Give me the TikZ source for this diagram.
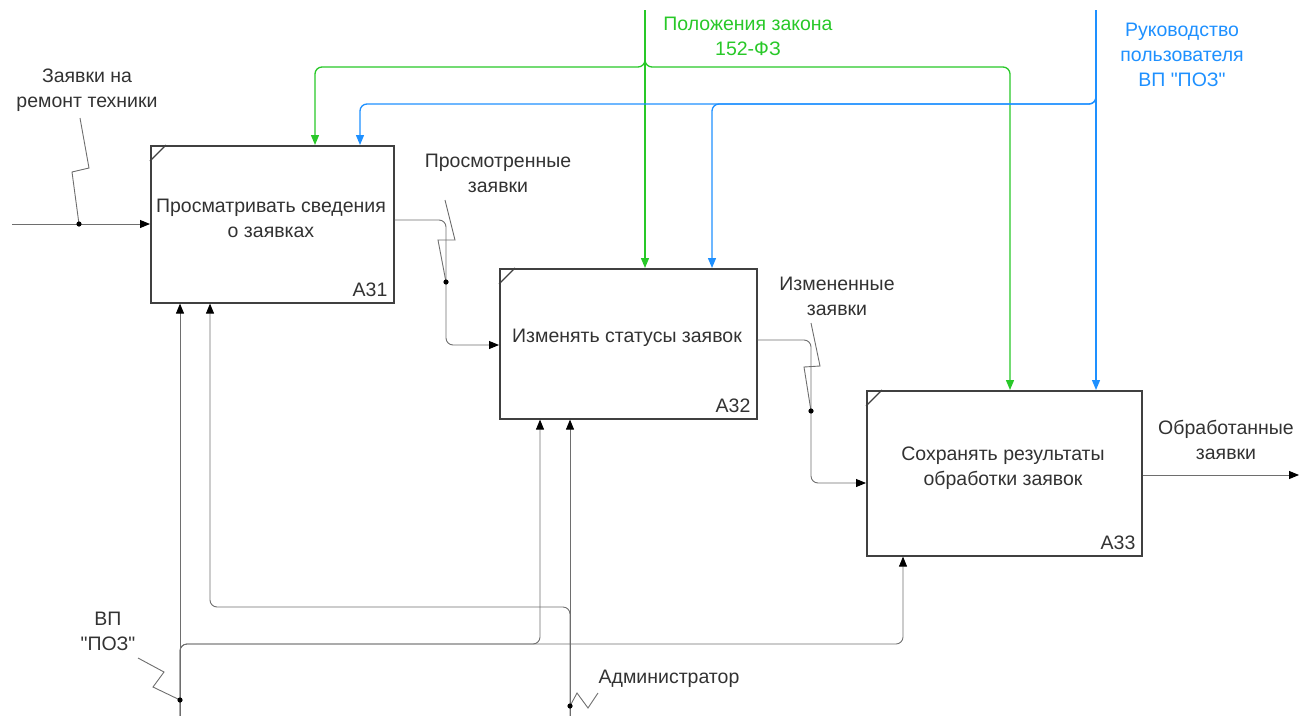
\documentclass[tikz,border=0pt]{standalone}
\usepackage{fontspec}
\setmainfont{Liberation Sans}[Ligatures=TeXOff]
\usetikzlibrary{arrows.meta,calc}
\definecolor{lgreen}{RGB}{40,200,40}
\definecolor{lblue}{RGB}{30,144,255}
\definecolor{lgray}{RGB}{110,110,110}
\definecolor{tgray}{RGB}{50,50,50}
\begin{document}
\begin{tikzpicture}[x=1pt,y=-1pt,
  box/.style={draw=black!75,line width=1.6pt,inner sep=0pt,anchor=north west},
  txt/.style={font=\fontsize{19.5}{25}\selectfont,text=tgray,align=center,inner sep=0pt},
  num/.style={font=\fontsize{19.5}{25}\selectfont,text=tgray,inner sep=0pt,anchor=south east},
  conn/.style={draw=lgray,line width=0.9pt,rounded corners=7pt},
  sq/.style={draw=lgray,line width=0.9pt},
  arr/.style={conn,-{Triangle[length=10pt,width=8pt,color=black]}},
  garr/.style={draw=lgreen,line width=1.3pt,rounded corners=7pt,-{Triangle[length=10pt,width=8pt]}},
  barr/.style={draw=lblue,line width=1.3pt,rounded corners=7pt,-{Triangle[length=10pt,width=8pt]}},
  dot/.style={fill=black}]
\useasboundingbox (0,0) rectangle (1303,715);
% boxes
\node[box,minimum width=243pt,minimum height=157pt] (a31) at (150,145) {};
\node[box,minimum width=257pt,minimum height=150pt] (a32) at (499,268) {};
\node[box,minimum width=275pt,minimum height=165pt] (a33) at (866,390) {};
\foreach \b in {a31,a32,a33}{
  \draw[draw=black!75,line width=1.2pt] ($(\b.north west)+(0,16)$) -- ($(\b.north west)+(16,0)$);
}
\node[txt] (t31) at (271,218) {Просматривать сведения\\о заявках};
\node[txt] (t32) at (627,338) {Изменять статусы заявок};
\node[txt] (t33) at (1003,468) {Сохранять результаты\\обработки заявок};
\node[num] (n31) at ($(a31.south east)+(-7,-7)$) {A31};
\node[num] (n32) at ($(a32.south east)+(-7,-7)$) {A32};
\node[num] (n33) at ($(a33.south east)+(-7,-7)$) {A33};
% labels
\node[txt] (lin) at (87,90) {Заявки на\\ремонт техники};
\node[txt,text=lgreen] (lgr) at (748,36) {Положения закона\\152-ФЗ};
\node[txt,text=lblue] (lbl) at (1182,55) {Руководство\\пользователя\\ВП "ПОЗ"};
\node[txt] (l12) at (498,173) {Просмотренные\\заявки};
\node[txt] (l23) at (837,296) {Измененные\\заявки};
\node[txt] (lout) at (1226,440) {Обработанные\\заявки};
\node[txt] (lvp) at (108,631) {ВП\\"ПОЗ"};
\node[txt] (ladm) at (669,679) {Администратор};
% coordinates
\coordinate (in) at (12,224);
\coordinate (d1) at (79,224);
\coordinate (o31) at ($(a31.north east)+(0,75)$);
\coordinate (j1) at (446,282);
\coordinate (i32) at ($(a32.north west)+(0,77)$);
\coordinate (o32) at ($(a32.north east)+(0,72)$);
\coordinate (j2) at (811,411);
\coordinate (i33) at ($(a33.north west)+(0,93)$);
\coordinate (o33) at ($(a33.north east)+(0,85)$);
\coordinate (out) at (1299,475);
\coordinate (gtop) at (645,10);
\coordinate (gj) at (645,67);
\coordinate (gL) at (315,67);
\coordinate (gR) at (1010,67);
\coordinate (btop) at (1096,10);
\coordinate (bj) at (1096,104);
\coordinate (bL) at (360,104);
\coordinate (bM) at (712,104);
\coordinate (vbot) at (180,716);
\coordinate (dv) at (180,700);
\coordinate (m1) at (180,644);
\coordinate (m2) at (540,644);
\coordinate (m3) at (903,644);
\coordinate (abot) at (570,716);
\coordinate (da) at (570,706);
\coordinate (p1) at (570,607);
\coordinate (p2) at (210,607);
% controls
\draw[garr] (gtop) -- (gtop |- a32.north);
\draw[garr] (gtop) -- (gj) -- (gL) -- (gL |- a31.north);
\draw[garr] (gtop) -- (gj) -- (gR) -- (gR |- a33.north);
\draw[barr] (btop) -- (btop |- a33.north);
\draw[barr] (btop) -- (bj) -- (bL) -- (bL |- a31.north);
\draw[barr] (btop) -- (bj) -- (bM) -- (bM |- a32.north);
% inputs / outputs
\draw[arr] (in) -- (in -| a31.west);
\draw[arr] (o31) -| (j1) |- (i32);
\draw[arr] (o32) -| (j2) |- (i33);
\draw[arr] (o33) -- (out);
% mechanisms
\draw[arr] (vbot) -- (vbot |- a31.south);
\draw[arr] (vbot) -- (m1) -- (m2) -- (m2 |- a32.south);
\draw[arr] (vbot) -- (m1) -- (m3) -- (m3 |- a33.south);
\draw[arr] (abot) -- (abot |- a32.south);
\draw[arr] (abot) -- (p1) -- (p2) -- (p2 |- a31.south);
% squiggles
\draw[sq] (80,118) -- (89,168) -- (72,172) -- (d1);
\draw[sq] (445,200) -- (455,240) -- (438,240) -- (j1);
\draw[sq] (811,323) -- (820,366) -- (804,367) -- (j2);
\draw[sq] (138,658) -- (164,672) -- (153,687) -- (dv);
\draw[sq] (598,693) -- (588,708) -- (577,693) -- (da);
% dots
\foreach \p in {d1,j1,j2,dv,da}{ \fill[dot] (\p) circle (2.6pt); }
\end{tikzpicture}
\end{document}
